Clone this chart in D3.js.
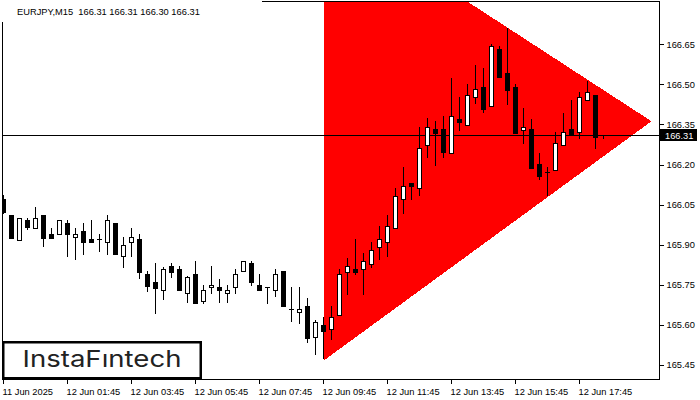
<!DOCTYPE html>
<html><head><meta charset="utf-8">
<script src="https://cdn.jsdelivr.net/npm/d3@7"></script>
<style>html,body{margin:0;padding:0;background:#fff}svg{display:block}</style>
</head><body><svg id="c" width="700" height="400"></svg>
<script>
// ---------- data ----------
const symbolTitle = "EURJPY,M15";
const lastQuote = ["166.31", "166.31", "166.30", "166.31"];
const firstBarTime = "2025-06-11T23:45";
const barMinutes = 15;
const opens = [166.071,166.011,165.919,165.991,165.962,166.011,165.940,165.939,165.981,165.928,
  165.951,165.922,165.921,165.909,165.981,165.859,165.909,165.922,165.789,165.761,
  165.730,165.819,165.809,165.718,165.791,165.688,165.741,165.742,165.718,165.741,
  165.801,165.832,165.749,165.741,165.730,165.802,165.658,165.647,165.671,165.556,
  165.599,165.586,165.638,165.799,165.809,165.808,165.829,165.890,165.909,165.962,
  166.070,166.131,166.111,166.272,166.332,166.333,166.242,166.372,166.349,166.452,
  166.490,166.420,166.632,166.543,166.490,166.330,166.333,166.202,166.171,166.179,
  166.272,166.333,166.321,166.441,166.459,166.31];
const highs = [166.086,166.011,165.999,166.001,166.042,166.011,165.964,165.991,165.993,165.963,
  165.983,165.993,165.940,166.012,165.981,165.929,165.963,165.940,165.802,165.832,
  165.817,165.833,165.820,165.783,165.840,165.749,165.820,165.772,165.749,165.809,
  165.839,165.839,165.791,165.741,165.809,165.802,165.741,165.741,165.700,165.618,
  165.629,165.671,165.809,165.850,165.922,165.868,165.910,165.970,166.011,166.112,
  166.191,166.131,166.342,166.374,166.364,166.382,166.525,166.454,166.501,166.573,
  166.561,166.651,166.645,166.711,166.501,166.413,166.369,166.242,166.192,166.322,
  166.393,166.442,166.472,166.513,166.459,166.31];
const lows = [166.019,165.926,165.919,165.959,165.962,165.896,165.926,165.939,165.859,165.848,
  165.867,165.909,165.878,165.867,165.867,165.817,165.859,165.777,165.728,165.646,
  165.698,165.778,165.730,165.687,165.681,165.681,165.718,165.687,165.687,165.718,
  165.801,165.748,165.730,165.681,165.709,165.670,165.616,165.606,165.537,165.491,
  165.476,165.548,165.638,165.717,165.789,165.717,165.818,165.848,165.859,165.962,
  166.020,166.070,166.087,166.229,166.200,166.229,166.242,166.330,166.349,166.429,
  166.398,166.420,166.529,166.427,166.319,166.280,166.188,166.145,166.086,166.179,
  166.272,166.310,166.301,166.441,166.261,166.30];
const closes = [166.023,165.926,165.999,165.968,165.999,165.926,165.926,165.991,165.939,165.940,
  165.909,165.909,165.921,165.991,165.867,165.898,165.928,165.799,165.747,165.739,
  165.809,165.799,165.730,165.778,165.681,165.730,165.749,165.730,165.730,165.791,
  165.839,165.759,165.730,165.741,165.791,165.670,165.658,165.658,165.550,165.610,
  165.579,165.629,165.791,165.821,165.799,165.838,165.880,165.920,165.969,166.081,
  166.119,166.119,166.261,166.339,166.319,166.248,166.382,166.359,166.459,166.482,
  166.408,166.645,166.529,166.479,166.319,166.339,166.188,166.158,166.171,166.280,
  166.322,166.310,166.452,166.472,166.302,166.31];
const currentPrice = 166.31;
const yTickValues = [165.45,165.60,165.75,165.90,166.05,166.20,166.35,166.50,166.65];
const xTickTimes = ["2025-06-11T23:45","2025-06-12T01:45","2025-06-12T03:45","2025-06-12T05:45",
  "2025-06-12T07:45","2025-06-12T09:45","2025-06-12T11:45","2025-06-12T13:45",
  "2025-06-12T15:45","2025-06-12T17:45"];
const xTickLabels = ["11 Jun 2025","12 Jun 01:45","12 Jun 03:45","12 Jun 05:45","12 Jun 07:45",
  "12 Jun 09:45","12 Jun 11:45","12 Jun 13:45","12 Jun 15:45","12 Jun 17:45"];
const triangleTimes = ["2025-06-12T09:45","2025-06-12T20:00","2025-06-12T09:45"];
const trianglePrices = [167.160, 166.362, 165.466];
const logoText = "InstaF\u0131ntech";

// ---------- layout ----------
const parse = d3.utcParse("%Y-%m-%dT%H:%M");
const plot = {left: 2, top: 1, right: 659, bottom: 379};
const t0 = parse(firstBarTime);
const barTimes = opens.map((_, i) => new Date(t0.getTime() + i * barMinutes * 60000));

const x = d3.scaleUtc()
  .domain([t0, parse("2025-06-12T20:00")])
  .range([3.5, 651.5]);
const y = d3.scaleLinear().domain([165.45, 166.65]).range([365, 44.3]);

const svg = d3.select("#c");
const font = "'Liberation Sans', Arial, sans-serif";

svg.append("defs").append("clipPath").attr("id", "plotClip")
  .append("rect").attr("x", plot.left).attr("y", plot.top)
  .attr("width", plot.right - plot.left).attr("height", plot.bottom - plot.top);

const g = svg.append("g").attr("clip-path", "url(#plotClip)");

// triangle pattern
const triPts = triangleTimes.map((t, i) => [x(parse(t)), y(trianglePrices[i])]);
g.append("path")
  .attr("d", d3.line()(triPts) + "Z")
  .attr("fill", "#ff0000")
  .attr("shape-rendering", "crispEdges");

// current price line
const cy = Math.round(y(currentPrice)) + 0.5;
g.append("line").attr("x1", plot.left).attr("x2", plot.right)
  .attr("y1", cy).attr("y2", cy)
  .attr("stroke", "#000").attr("stroke-width", 1).attr("shape-rendering", "crispEdges");

// candles
const candles = g.append("g").attr("shape-rendering", "crispEdges");
opens.forEach((o, i) => {
  const c = closes[i], h = highs[i], l = lows[i];
  const px = Math.floor(x(barTimes[i]));
  const yh = Math.round(y(h)), yl = Math.round(y(l));
  if (yl > yh) {
    candles.append("line").attr("x1", px + 0.5).attr("x2", px + 0.5)
      .attr("y1", yh).attr("y2", yl + 1)
      .attr("stroke", "#000").attr("stroke-width", 1);
  }
  const yTop = Math.round(y(Math.max(o, c)));
  const yBot = Math.round(y(Math.min(o, c)));
  if (yBot - yTop < 1) {
    candles.append("line").attr("x1", px - 2).attr("x2", px + 3)
      .attr("y1", yTop + 0.5).attr("y2", yTop + 0.5)
      .attr("stroke", "#000").attr("stroke-width", 1);
  } else {
    candles.append("rect")
      .attr("x", px - 2 + 0.5).attr("y", yTop + 0.5)
      .attr("width", 4).attr("height", yBot - yTop)
      .attr("fill", c >= o ? "#fff" : "#000")
      .attr("stroke", "#000").attr("stroke-width", 1);
  }
});

// hide top-left border area behind title
svg.append("rect").attr("x", 0).attr("y", 0).attr("width", 262).attr("height", 22).attr("fill", "#fff");

// frame
svg.append("path")
  .attr("d", `M262,${plot.top + 0.5}H${plot.right + 0.5}V${plot.bottom + 0.5}H${plot.left + 0.5}V22`)
  .attr("fill", "none").attr("stroke", "#000").attr("stroke-width", 1)
  .attr("shape-rendering", "crispEdges");

// right axis
const yAxis = d3.axisRight(y).tickValues(yTickValues).tickFormat(d3.format(".2f"))
  .tickSize(4).tickPadding(3);
svg.append("g").attr("transform", `translate(${plot.right + 0.5},0)`)
  .call(yAxis)
  .call(a => a.select(".domain").remove())
  .call(a => a.selectAll("line").attr("stroke", "#000").attr("shape-rendering", "crispEdges"))
  .call(a => a.selectAll("text").attr("font-family", font).attr("font-size", "9.3px").attr("fill", "#000"));

// bottom axis
const xTickDates = xTickTimes.map(parse);
const xAxis = d3.axisBottom(x).tickValues(xTickDates)
  .tickFormat((d, i) => xTickLabels[i]).tickSize(4).tickPadding(5);
svg.append("g").attr("transform", `translate(0,${plot.bottom + 0.5})`)
  .call(xAxis)
  .call(a => a.select(".domain").remove())
  .call(a => a.selectAll(".tick").attr("transform", d => `translate(${Math.floor(x(d)) + 0.5},0)`))
  .call(a => a.selectAll("line").attr("stroke", "#000").attr("shape-rendering", "crispEdges"))
  .call(a => a.selectAll("text").attr("font-family", font).attr("font-size", "9.3px")
    .attr("fill", "#000").attr("text-anchor", "start").attr("x", -1));

// current price label
const lbl = svg.append("g");
lbl.append("rect").attr("x", 660).attr("y", cy - 6.5).attr("width", 37).attr("height", 12).attr("fill", "#000");
lbl.append("text").attr("x", 665).attr("y", cy).attr("dy", "0.35em")
  .attr("font-family", font).attr("font-size", "9.3px").attr("fill", "#fff")
  .text(d3.format(".2f")(currentPrice));

// title
svg.append("text").attr("x", 17).attr("y", 15)
  .attr("font-family", font).attr("font-size", "9.3px").attr("fill", "#000")
  .style("white-space", "pre")
  .text(symbolTitle + "  " + lastQuote.join(" "));

// logo
svg.append("rect").attr("x", 3.25).attr("y", 342.25).attr("width", 197.5).attr("height", 36)
  .attr("fill", "#fff").attr("stroke", "#000").attr("stroke-width", 2.5);
svg.append("text").attr("x", 102).attr("y", 367)
  .attr("text-anchor", "middle")
  .attr("font-family", "Inter, 'Open Sans', sans-serif").attr("font-weight", 400)
  .attr("font-size", "23px").attr("fill", "#222")
  .attr("textLength", 159).attr("lengthAdjust", "spacingAndGlyphs")
  .text(logoText);
</script>
</body></html>
